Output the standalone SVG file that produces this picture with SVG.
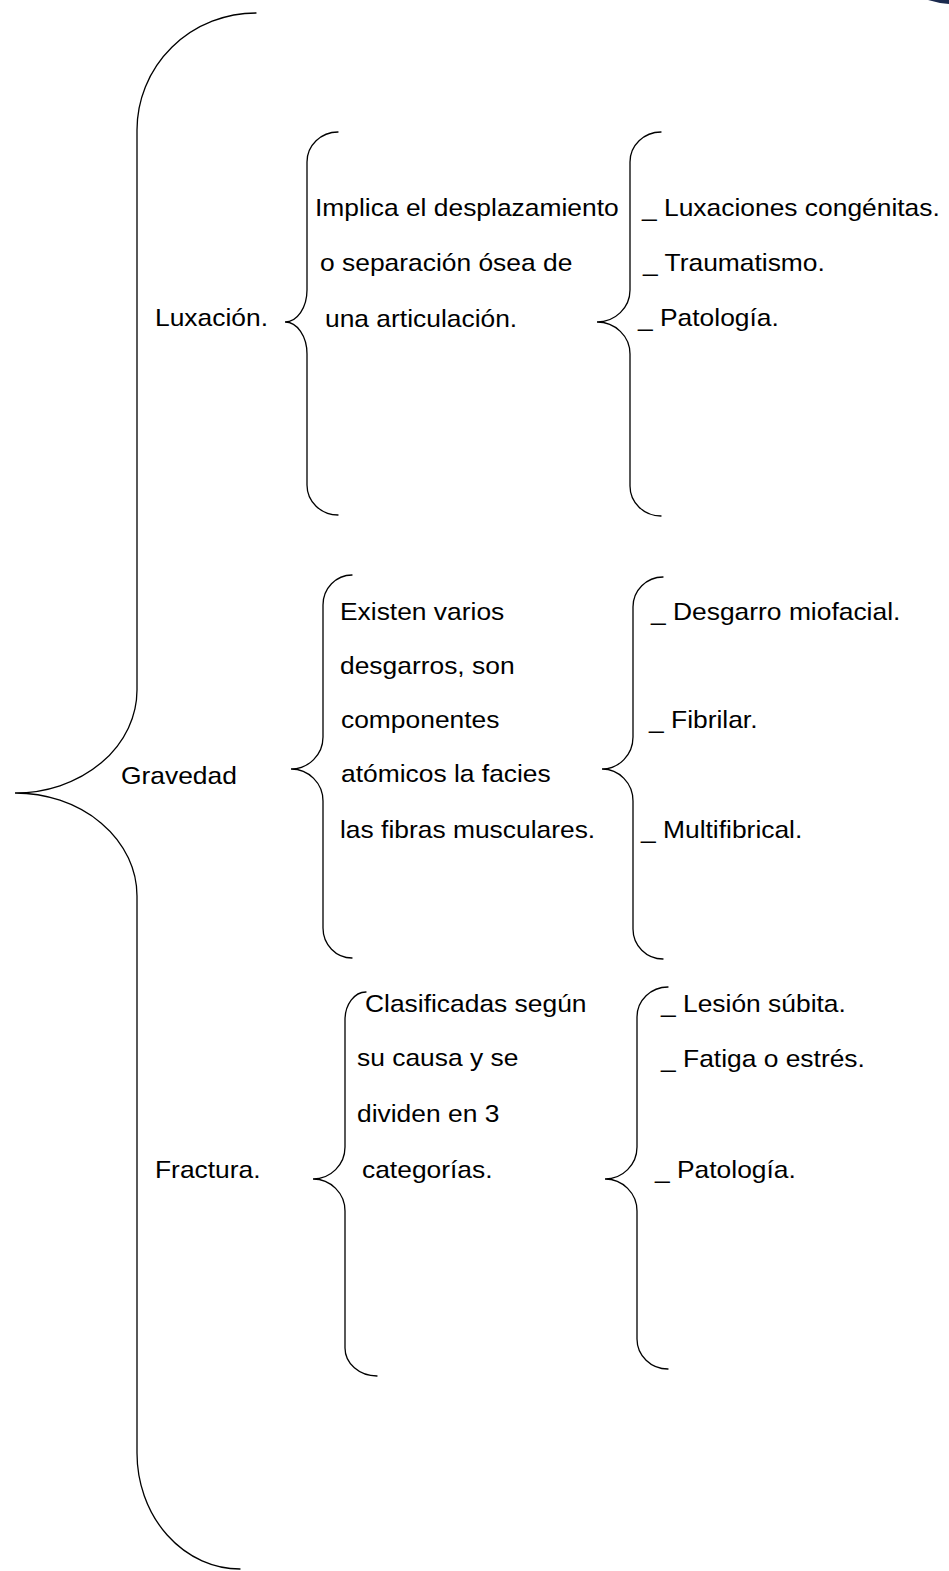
<svg xmlns="http://www.w3.org/2000/svg" width="949" height="1571" viewBox="0 0 949 1571">
<style>
.b{fill:none;stroke:#000;stroke-width:1.3;stroke-linecap:round}
text{font-family:"Liberation Sans",Arial,sans-serif;font-size:24px;fill:#000}
</style>
<rect width="949" height="1571" fill="#fff"/>
<path d="M928,0 L949,0 L949,4 L940,3 Z" fill="#1b2a4e"/>
<g id="connectors">
<path class="b" d="M256,13 A119,117 0 0 0 137,130 L137,690 A122,103 0 0 1 15,793 A122,103 0 0 1 137,896 L137,1453 A103,116 0 0 0 240,1569"/>
<path class="b" d="M338,132 A31,30 0 0 0 307,162 L307,290 A22,32 0 0 1 285,322 A22,32 0 0 1 307,354 L307,485 A31,30 0 0 0 338,515"/>
<path class="b" d="M661,132 A31,30 0 0 0 630,162 L630,290 A33,32 0 0 1 597,322 A33,32 0 0 1 630,354 L630,486 A31,30 0 0 0 661,516"/>
<path class="b" d="M352,575 A29,30 0 0 0 323,605 L323,737 A32,32 0 0 1 291,769 A32,32 0 0 1 323,801 L323,928 A29,30 0 0 0 352,958"/>
<path class="b" d="M663,577 A30,30 0 0 0 633,607 L633,737 A31,32 0 0 1 602,769 A31,32 0 0 1 633,801 L633,929 A30,30 0 0 0 663,959"/>
<path class="b" d="M366,992 A21,28 0 0 0 345,1020 L345,1147 A32,32 0 0 1 313,1179 A32,32 0 0 1 345,1211 L345,1348 A32,28 0 0 0 377,1376"/>
<path class="b" d="M668,987 A31,30 0 0 0 637,1017 L637,1147 A32,32 0 0 1 605,1179 A32,32 0 0 1 637,1211 L637,1339 A31,30 0 0 0 668,1369"/>
</g>
<g id="luxacion">
<text transform="translate(155,326) scale(1.1,1)">Luxación.</text>
</g>
<g id="luxacion-desc">
<text transform="translate(315,216) scale(1.1,1)">Implica el desplazamiento</text>
<text transform="translate(320,271) scale(1.1,1)">o separación ósea de</text>
<text transform="translate(325,327) scale(1.1,1)">una articulación.</text>
</g>
<g id="luxacion-tipos">
<text transform="translate(642,216) scale(1.1,1)">_ Luxaciones congénitas.</text>
<text transform="translate(643,271) scale(1.1,1)">_ Traumatismo.</text>
<text transform="translate(638,326) scale(1.1,1)">_ Patología.</text>
</g>
<g id="gravedad">
<text transform="translate(121,784) scale(1.1,1)">Gravedad</text>
</g>
<g id="gravedad-desc">
<text transform="translate(340,620) scale(1.1,1)">Existen varios</text>
<text transform="translate(340,674) scale(1.1,1)">desgarros, son</text>
<text transform="translate(341,728) scale(1.1,1)">componentes</text>
<text transform="translate(341,782) scale(1.1,1)">atómicos la facies</text>
<text transform="translate(340,838) scale(1.1,1)">las fibras musculares.</text>
</g>
<g id="gravedad-tipos">
<text transform="translate(651,620) scale(1.1,1)">_ Desgarro miofacial.</text>
<text transform="translate(649,728) scale(1.1,1)">_ Fibrilar.</text>
<text transform="translate(641,838) scale(1.1,1)">_ Multifibrical.</text>
</g>
<g id="fractura">
<text transform="translate(155,1178) scale(1.1,1)">Fractura.</text>
</g>
<g id="fractura-desc">
<text transform="translate(365,1012) scale(1.1,1)">Clasificadas según</text>
<text transform="translate(357,1066) scale(1.1,1)">su causa y se</text>
<text transform="translate(357,1122) scale(1.1,1)">dividen en 3</text>
<text transform="translate(362,1178) scale(1.1,1)">categorías.</text>
</g>
<g id="fractura-tipos">
<text transform="translate(661,1012) scale(1.1,1)">_ Lesión súbita.</text>
<text transform="translate(661,1067) scale(1.1,1)">_ Fatiga o estrés.</text>
<text transform="translate(655,1178) scale(1.1,1)">_ Patología.</text>
</g>
</svg>
